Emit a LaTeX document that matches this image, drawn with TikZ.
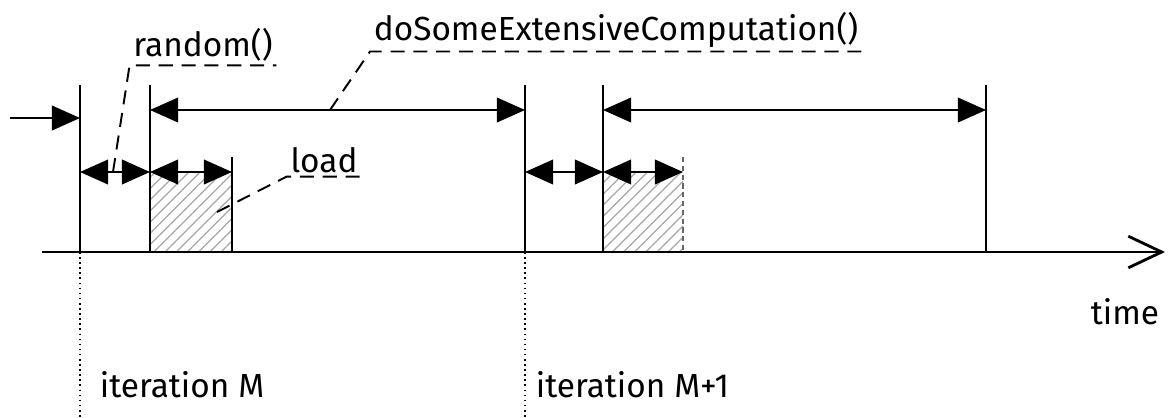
\documentclass[tikz,border=0pt]{standalone}
\usepackage{fontspec}
\setmainfont{Fira Sans}
\usetikzlibrary{arrows.meta,patterns.meta,positioning}

\begin{document}
\begin{tikzpicture}[
            x=0.02cm, y=-0.02cm,
            tick/.style={line width=1.4pt},
            span/.style={{Triangle[length=16pt,width=14pt]}-{Triangle[length=16pt,width=14pt]}, line width=1.2pt},
            note/.style={font=\fontsize{19}{22}\selectfont, inner sep=2pt},
            leader/.style={dash pattern=on 8pt off 5pt, line width=1.1pt},
            hatch/.style={pattern={Lines[angle=45,distance=4.5pt,line width=0.7pt]}, pattern color=gray!70}
        ]
            \useasboundingbox (0,0) rectangle (1170,417);

            % levels of the arrows
            \coordinate (src) at (10,118);
            \coordinate (hi) at (0,110);
            \coordinate (lo) at (0,172);
            \coordinate (base) at (0,417);

            % markers on the time line
            \coordinate (s0) at (80,85);   \coordinate (s0f) at (80,252);
            \coordinate (s1) at (150,85);  \coordinate (s1f) at (150,252);
            \coordinate (s2) at (232,157); \coordinate (s2f) at (232,252);
            \coordinate (s3) at (525,85);  \coordinate (s3f) at (525,252);
            \coordinate (s4) at (603,85);  \coordinate (s4f) at (603,252);
            \coordinate (s5) at (683,157); \coordinate (s5f) at (683,252);
            \coordinate (s6) at (986,85);  \coordinate (s6f) at (986,252);
            \coordinate (ax0) at (42,252);
            \coordinate (ax1) at (1165,252);

            % load areas
            \fill[hatch] (s1 |- lo) rectangle (s2f);
            \fill[hatch] (s4 |- lo) rectangle (s5f);

            \draw[tick] (s0) -- (s0f);
            \draw[tick] (s1) -- (s1f);
            \draw[tick] (s2) -- (s2f);
            \draw[tick] (s3) -- (s3f);
            \draw[tick] (s4) -- (s4f);
            \draw[tick, black!60, densely dashed] (s5) -- (s5f);
            \draw[tick] (s6) -- (s6f);

            \draw[line width=1.6pt, -{Straight Barb[length=19pt,width=18pt]}] (ax0) -- (ax1);
            \draw[dotted, line width=0.9pt] (s0f) -- (s0 |- base);
            \draw[dotted, line width=0.9pt] (s3f) -- (s3 |- base);

            % durations
            \draw[line width=1.3pt, -{Triangle[length=16pt,width=14pt]}] (src) -- (s0 |- src);
            \draw[span] (s0 |- lo) -- (s1 |- lo);
            \draw[span] (s1 |- lo) -- (s2 |- lo);
            \draw[span] (s1 |- hi) -- (s3 |- hi);
            \draw[span] (s3 |- lo) -- (s4 |- lo);
            \draw[span] (s4 |- lo) -- (s5 |- lo);
            \draw[span] (s4 |- hi) -- (s6 |- hi);

            % labels
            \node[note] (rnd) at (203,45) {random()};
            \node[note] (work) at (616,30) {doSomeExtensiveComputation()};
            \node[note] (ld) at (324,160) {load};
            \node[note] (tm) at (1125,312) {time};
            \node[note, anchor=west] (itM) at (96,385) {iteration M};
            \node[note, anchor=west] (itN) at (532,385) {iteration M+1};

            \coordinate (rndtip) at (113,172);
            \coordinate (worktip) at (330,110);
            \coordinate (ldtip) at (217,212);
            \draw[leader] (rndtip) -- (rnd.south west) -- (rnd.south east);
            \draw[leader] (worktip) -- (work.south west) -- (work.south east);
            \draw[leader] (ldtip) -- (ld.south west) -- (ld.south east);
        \end{tikzpicture}
\end{document}
